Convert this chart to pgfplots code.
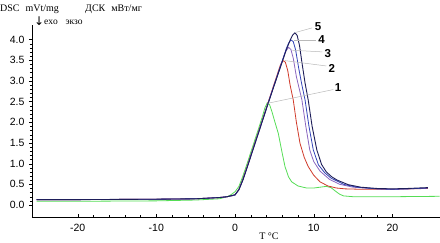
\documentclass[border=0pt]{standalone}
\usepackage{fontspec}
\setmainfont{Liberation Sans}
\newfontfamily\serif{Liberation Serif}
\newfontfamily\djv{DejaVu Sans}
\usepackage{pgfplots}
\pgfplotsset{compat=1.18}
\definecolor{cnavy}{HTML}{1E1E5A}
\definecolor{cblue}{HTML}{3344B8}
\definecolor{cpurp}{HTML}{8A66C0}
\definecolor{cred}{HTML}{D03A2A}
\definecolor{cgreen}{HTML}{55DD55}
\begin{document}
\begin{tikzpicture}
\path[use as bounding box] (-32pt,-26pt) rectangle (408pt,217pt);
\begin{axis}[
  at={(0,0)}, anchor=south west,
  scale only axis, width=408pt, height=192pt,
  xmin=-25.8, xmax=26.05, ymin=-0.29, ymax=4.35,
  axis lines=left, axis line style={-, black, line width=0.6pt},
  xtick={-20,-10,0,10,20}, minor x tick num=4,
  ytick={0,0.5,...,4.0}, minor y tick num=4,
  tick align=outside, major tick length=3pt, minor tick length=2pt,
  xtick style={yshift=3pt, black}, minor x tick style={yshift=-1pt},
  ytick style={black},
  /pgf/number format/assume math mode=true,
  tick label style={font=\fontsize{10.5}{12}\selectfont},
  yticklabel={\pgfmathprintnumber[fixed,fixed zerofill,precision=1]{\tick}},
  xticklabel style={yshift=-1pt},
  yticklabel style={xshift=-1pt},
  clip=false,
  every axis plot/.append style={line width=0.8pt, mark=none},
]
% 1 green
\addplot[cgreen] coordinates {(-25.2,0.09)(-20,0.09)(-10,0.10)(-5,0.12)(-2,0.15)(-1,0.20)(-0.5,0.25)(0,0.32)(0.5,0.45)(1,0.70)(1.5,0.98)(2,1.27)(3,1.85)(3.5,2.15)(3.8,2.35)(4.1,2.47)(4.4,2.42)(4.7,2.25)(5.0,2.05)(5.5,1.73)(6.0,1.25)(6.35,0.93)(6.8,0.68)(7.2,0.56)(8,0.46)(9.1,0.41)(10,0.41)(10.8,0.43)(11.6,0.45)(12.2,0.42)(12.8,0.33)(13.3,0.26)(13.8,0.22)(15,0.20)(20,0.20)(26,0.21)};
% 2 red
\addplot[cred] coordinates {(-25.2,0.13)(-20,0.13)(-15,0.135)(-10,0.14)(-5,0.15)(-2,0.18)(-1,0.20)(0,0.24)(0.5,0.38)(1,0.63)(1.5,0.91)(2,1.20)(3,1.78)(4,2.36)(5,2.94)(5.5,3.23)(5.8,3.40)(6.1,3.49)(6.4,3.45)(6.7,3.25)(7.0,2.90)(7.4,2.54)(7.8,2.00)(8.26,1.49)(8.8,1.15)(9.3,0.93)(10,0.72)(10.8,0.56)(11.8,0.46)(12.9,0.41)(14,0.39)(16,0.38)(20,0.38)(24.5,0.40)};
% 3 purple
\addplot[cpurp] coordinates {(-25.2,0.13)(-20,0.13)(-15,0.135)(-10,0.14)(-5,0.15)(-2,0.18)(-1,0.20)(0,0.24)(0.5,0.38)(1,0.62)(1.5,0.90)(2,1.19)(3,1.77)(4,2.35)(5,2.92)(6,3.48)(6.4,3.70)(6.8,3.81)(7.1,3.76)(7.4,3.55)(7.8,3.10)(8.5,2.54)(9,1.90)(9.5,1.33)(10,1.05)(10.8,0.82)(12,0.62)(13.3,0.50)(15,0.43)(18,0.39)(20,0.38)(22,0.39)(24.5,0.41)};
% 4 blue
\addplot[cblue] coordinates {(-25.2,0.13)(-20,0.13)(-15,0.135)(-10,0.14)(-5,0.15)(-2,0.18)(-1,0.20)(0,0.24)(0.5,0.37)(1,0.61)(1.5,0.89)(2,1.18)(3,1.76)(4,2.34)(5,2.91)(6,3.48)(6.5,3.77)(6.8,3.91)(7.1,3.99)(7.4,3.95)(7.7,3.75)(8.1,3.30)(8.5,2.90)(8.9,2.54)(9.4,1.90)(9.95,1.33)(10.6,0.97)(11.4,0.78)(12.2,0.65)(13.8,0.50)(15.5,0.43)(18,0.39)(20,0.38)(22,0.39)(24.5,0.41)};
% 5 navy
\addplot[cnavy, line width=0.9pt] coordinates {(-25.2,0.13)(-20,0.13)(-15,0.135)(-10,0.14)(-5,0.15)(-2,0.18)(-1,0.20)(0,0.25)(0.5,0.37)(1,0.60)(1.5,0.88)(2,1.17)(3,1.75)(4,2.33)(5,2.90)(6,3.46)(6.5,3.74)(7,3.98)(7.3,4.10)(7.6,4.16)(7.9,4.10)(8.2,3.85)(8.5,3.45)(8.9,2.95)(9.3,2.54)(9.8,1.90)(10.4,1.33)(11,0.98)(11.6,0.80)(12.3,0.68)(13,0.60)(14.4,0.49)(16,0.43)(18,0.40)(20,0.39)(22,0.40)(24.5,0.42)};
% leader lines
\draw[gray!55, line width=0.5pt] (axis cs:7.7,4.17) -- (axis cs:9.8,4.28);
\draw[gray!55, line width=0.5pt] (axis cs:7.5,3.99) -- (axis cs:10.3,3.99);
\draw[gray!55, line width=0.5pt] (axis cs:7.3,3.74) -- (axis cs:11.1,3.70);
\draw[gray!55, line width=0.5pt] (axis cs:6.3,3.49) -- (axis cs:11.6,3.36);
\draw[gray!55, line width=0.5pt] (axis cs:4.2,2.46) -- (axis cs:12.5,2.79);
\node[font=\fontsize{11.5}{12}\selectfont\bfseries] at (axis cs:10.55,4.31) {5};
\node[font=\fontsize{11.5}{12}\selectfont\bfseries] at (axis cs:11.0,3.99) {4};
\node[font=\fontsize{11.5}{12}\selectfont\bfseries] at (axis cs:11.8,3.67) {3};
\node[font=\fontsize{11.5}{12}\selectfont\bfseries] at (axis cs:12.3,3.31) {2};
\node[font=\fontsize{11.5}{12}\selectfont\bfseries] at (axis cs:13.1,2.83) {1};
\end{axis}
\node[anchor=base west, inner sep=0pt, font=\serif\fontsize{10}{12}\selectfont] at (-32pt,205.5pt) {DSC\hspace{0.6em}mVt/mg};
\node[anchor=base west, inner sep=0pt, font=\serif\fontsize{10}{12}\selectfont] at (53pt,205.5pt) {ДСК\hspace{0.6em}мВт/мг};
\node[anchor=base west, inner sep=0pt, font=\djv\fontsize{12}{12}\selectfont] at (2pt,191pt) {↓};
\node[anchor=base west, inner sep=0pt, font=\serif\fontsize{9.5}{12}\selectfont] at (12pt,192pt) {exo\hspace{0.8em}экзо};
\node[anchor=center, inner sep=0pt, font=\serif\fontsize{10}{12}\selectfont] at (237pt,-19pt) {T °C};
\end{tikzpicture}
\end{document}
